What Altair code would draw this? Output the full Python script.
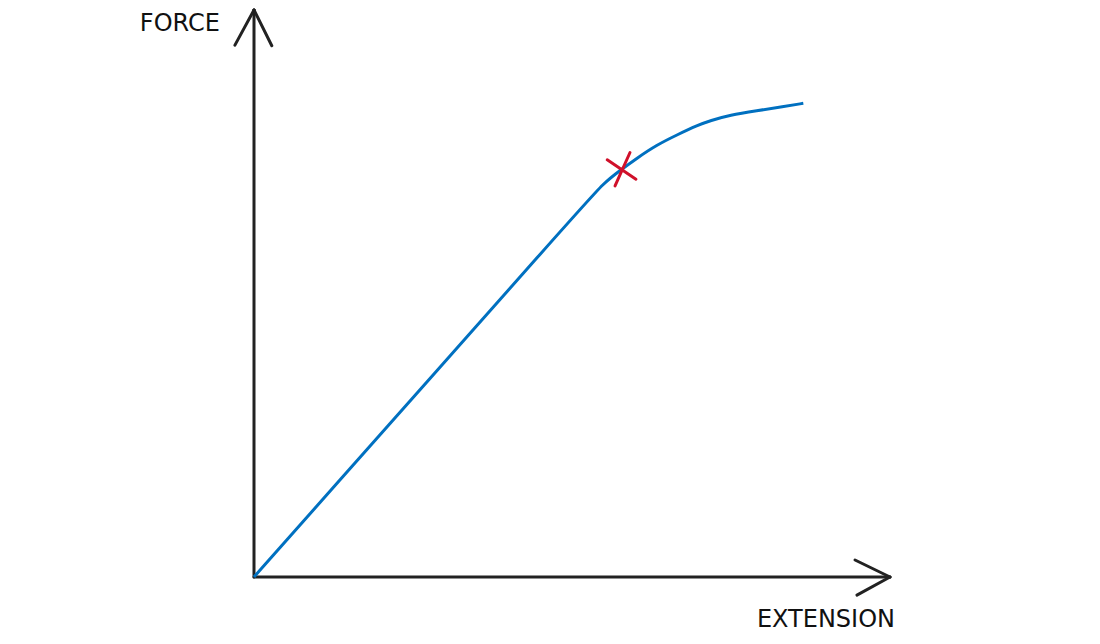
import altair as alt
import pandas as pd

# Curve (extension, force) in axis units (0-100)
ext = [0.0, 7.23, 51.26, 54.92, 57.81, 60.17, 63.32, 66.46, 69.86, 71.70, 74.84, 79.04, 83.22, 86.37]
force = [0.0, 9.17, 64.85, 69.44, 71.90, 73.84, 76.19, 77.95, 79.72, 80.48, 81.48, 82.24, 82.95, 83.54]

# Elastic limit marker
mark_x = [57.81]
mark_y = [71.90]

# Axis lines and arrow heads (x, y, x2, y2)
ax_x = [0, 0, -3.0, 2.8, 0, 94.5, 94.8]
ax_y = [0, 100, 93.8, 93.7, 0, 3.0, -3.2]
ax_x2 = [0, 0, 0, 0, 100, 100, 100]
ax_y2 = [100, 100, 100, 100, 0, 0, 0]

labels = ["FORCE", "EXTENSION"]
label_x = [-5.35, 100.79]
label_y = [96.3, -8.82]

curve = pd.DataFrame({"ext": ext, "force": force})
axes_df = pd.DataFrame({"x": ax_x, "y": ax_y, "x2": ax_x2, "y2": ax_y2})
mark_df = pd.DataFrame({"x": mark_x, "y": mark_y})
lab_df = pd.DataFrame({"t": labels, "x": label_x, "y": label_y})

xs = alt.Scale(domain=[0, 100], range=[246, 882])
ys = alt.Scale(domain=[0, 100], range=[569, 2])

axes_layer = alt.Chart(axes_df).mark_rule(
    color="#222222", strokeWidth=3, strokeCap="round"
).encode(
    x=alt.X("x:Q", scale=xs, axis=None),
    y=alt.Y("y:Q", scale=ys, axis=None),
    x2="x2:Q",
    y2="y2:Q",
)

curve_layer = alt.Chart(curve).mark_line(
    color="#0070c0", strokeWidth=3, interpolate="basis", clip=False
).encode(
    x=alt.X("ext:Q", scale=xs, axis=None),
    y=alt.Y("force:Q", scale=ys, axis=None),
    order="ext:Q",
)

x_shape = "M-0.85,-0.56L0.84,0.58M0.49,-0.99L-0.39,0.97"
mark_layer = alt.Chart(mark_df).mark_point(
    shape=x_shape, size=1156, filled=False, color="#d0102a",
    strokeWidth=3, strokeCap="round", opacity=1
).encode(
    x=alt.X("x:Q", scale=xs, axis=None),
    y=alt.Y("y:Q", scale=ys, axis=None),
)

text_layer = alt.Chart(lab_df).mark_text(
    align="right", baseline="alphabetic", font="DejaVu Sans", fontSize=24,
    color="#111111"
).encode(
    x=alt.X("x:Q", scale=xs, axis=None),
    y=alt.Y("y:Q", scale=ys, axis=None),
    text="t:N",
)

chart = alt.layer(axes_layer, curve_layer, mark_layer, text_layer).properties(
    width=1084, height=628,
    autosize=alt.AutoSizeParams(type="none"),
    padding=0,
).configure_view(stroke=None)

chart.save("out.html", embed_options={"renderer": "svg", "actions": False})
